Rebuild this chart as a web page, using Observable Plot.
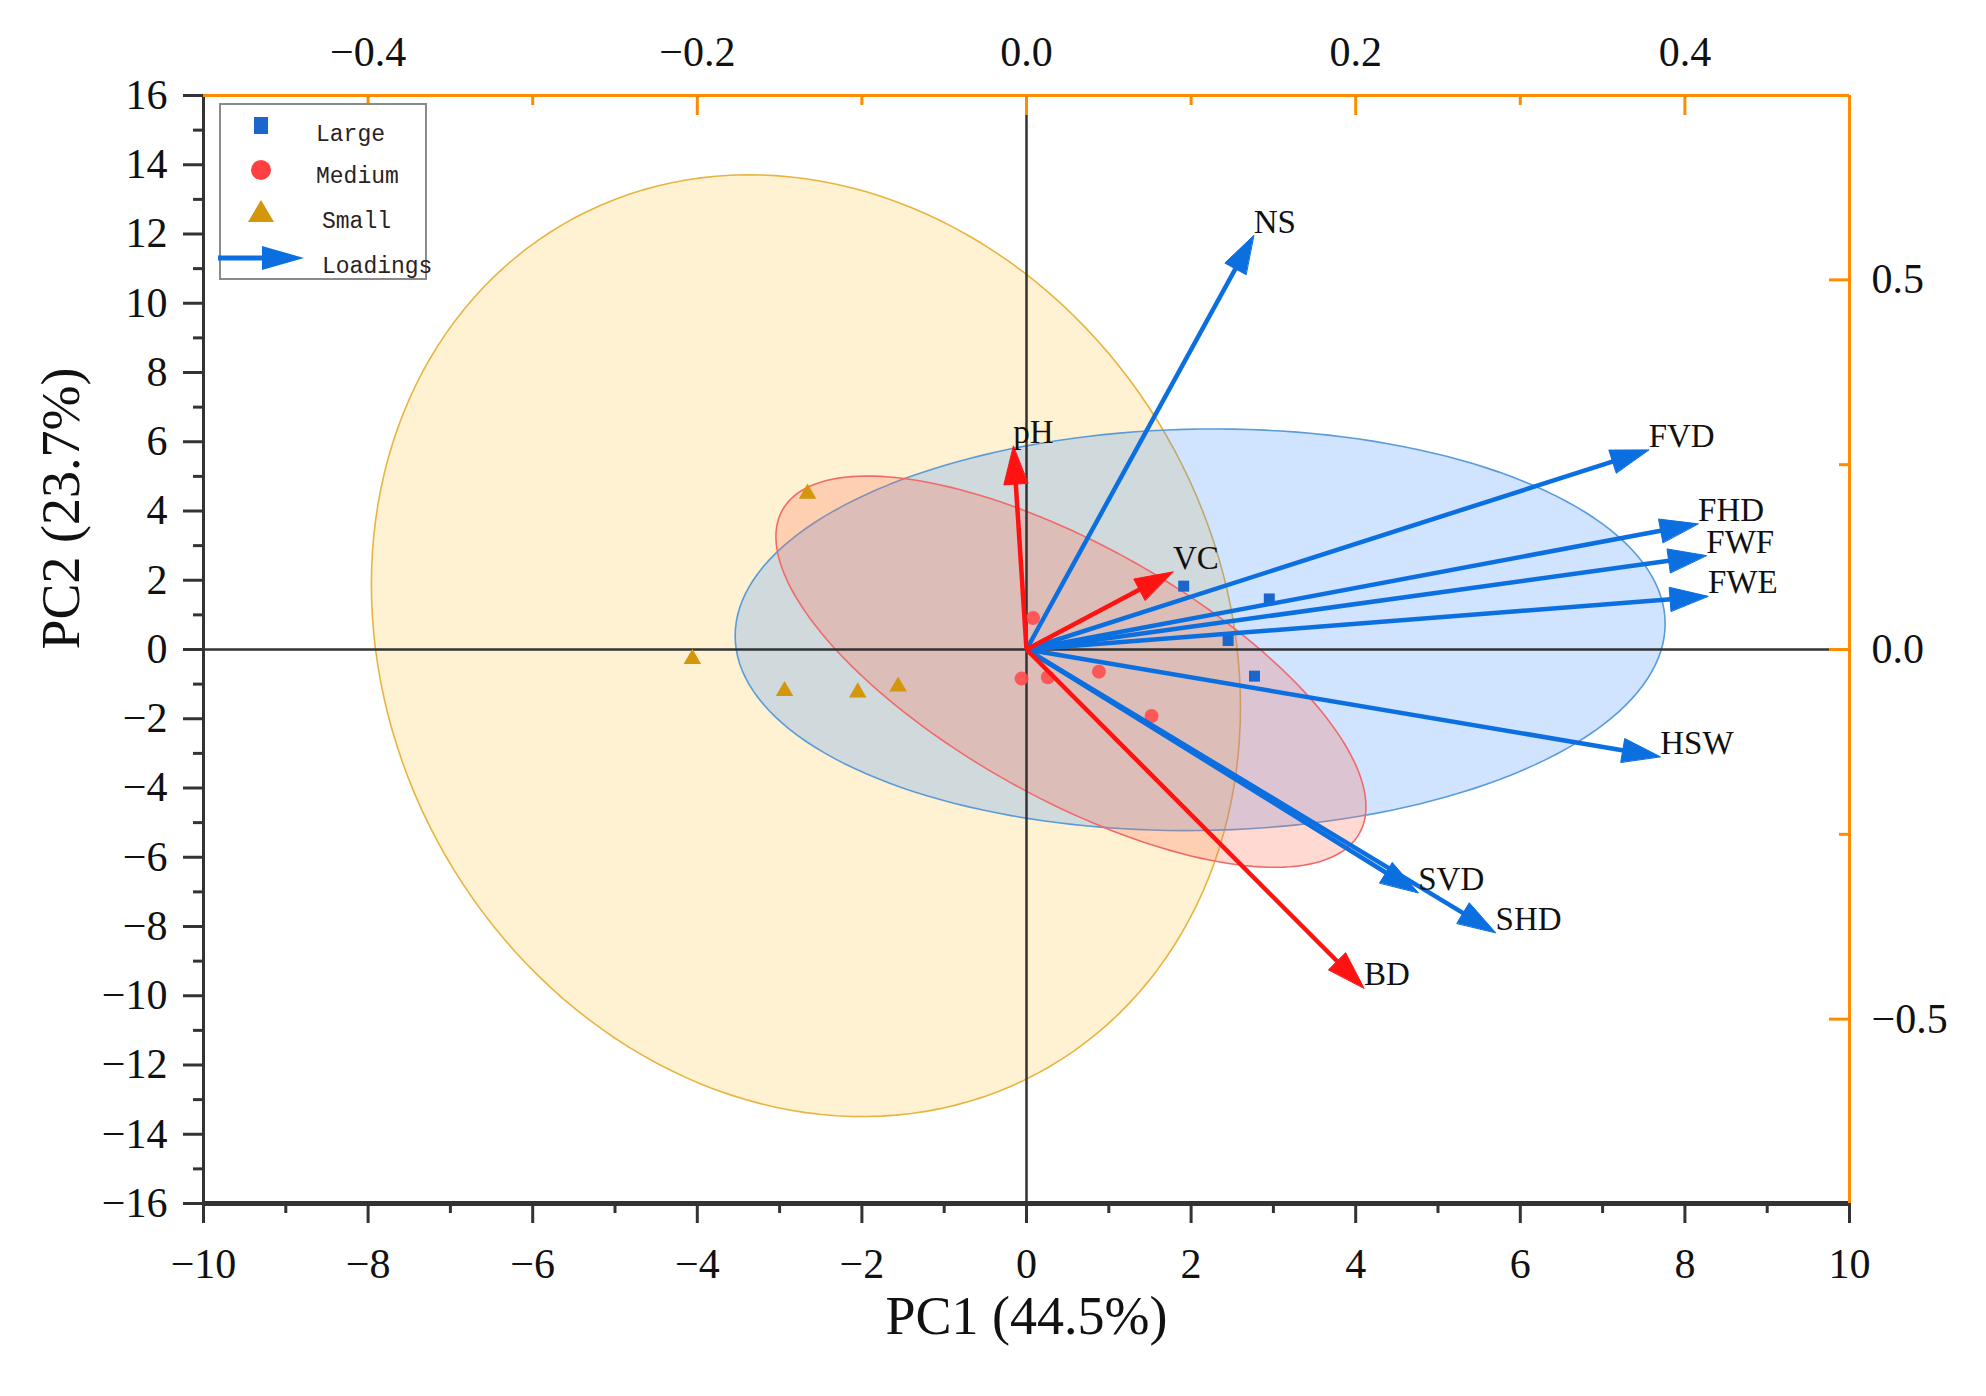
<!DOCTYPE html>
<html>
<head>
<meta charset="utf-8">
<script src="https://cdn.jsdelivr.net/npm/d3@7"></script>
<script src="https://cdn.jsdelivr.net/npm/@observablehq/plot@0.6"></script>
<style>
  body { margin: 0; background: #fff; }
  #wrap { position: relative; width: 1986px; height: 1396px; }
  #legend { position: absolute; left: 0; top: 0; }
</style>
</head>
<body>
<div id="wrap">
  <div id="chart_pca"></div>
  <svg id="legend" width="1986" height="1396"></svg>
</div>
<script>
// scores (PC1, PC2) por grupo
let groups = ["Large", "Medium", "Small"];
let largeX = [1.91, 2.95, 2.45, 2.77];
let largeY = [1.83, 1.46, 0.26, -0.77];
let mediumX = [0.08, -0.06, 0.26, 0.88, 1.52];
let mediumY = [0.91, -0.84, -0.80, -0.64, -1.92];
let smallX = [-2.66, -4.06, -2.94, -2.05, -1.56];
let smallY = [4.50, -0.27, -1.20, -1.24, -1.07];

// loadings (eje superior / derecho)
let variables = ["NS", "pH", "VC", "FVD", "FHD", "FWF", "FWE", "HSW", "SVD", "SHD", "BD"];
let loadPC1 = [0.138, -0.008, 0.089, 0.378, 0.408, 0.413, 0.414, 0.385, 0.238, 0.285, 0.205];
let loadPC2 = [0.560, 0.275, 0.105, 0.270, 0.170, 0.127, 0.072, -0.145, -0.329, -0.383, -0.458];
let soilVars = ["pH", "VC", "BD"];

// elipses de confianza: centro, semiancho PC1, semialto PC2, cos del desfase
let ellGroup = ["Small", "Large", "Medium"];
let ellCX = [-2.68, 2.11, 0.54];
let ellCY = [0.11, 0.57, -0.64];
let ellRX = [5.28, 5.65, 3.585];
let ellRY = [13.6, 5.80, 5.65];
let ellCos = [-0.13, 0.03, -0.69];

let ticksPC1 = d3.range(-10, 11, 2);
let ticksPC2 = d3.range(-16, 17, 2);
let ticksLoad1 = [-0.4, -0.2, 0, 0.2, 0.4];
let minorLoad1 = [-0.3, -0.1, 0.1, 0.3];
let ticksLoad2 = [-0.5, 0, 0.5];
let minorLoad2 = [-0.25, 0.25];

let kx = 20, ky = 21.35;
let W = 1986, H = 1396, mL = 203, mR = 137, mT = 95, mB = 193;
let fw = W - mL - mR, fh = H - mT - mB;
let pxX = fw / 20, pxY = fh / 32;
let dark = "#333", orange = "#ff8c00";
let blue = "#0b6fe0", red = "#ff1212";
let headLen = 38, headHalf = 12;

let scores = [
  ...largeX.map((x, i) => ({group: "Large", x, y: largeY[i]})),
  ...mediumX.map((x, i) => ({group: "Medium", x, y: mediumY[i]})),
  ...smallX.map((x, i) => ({group: "Small", x, y: smallY[i]}))
];

let loadings = variables.map((v, i) => {
  let d = {name: v, x: loadPC1[i] * kx, y: loadPC2[i] * ky, soil: soilVars.includes(v)};
  let ux = d.x * pxX, uy = d.y * pxY, n = Math.hypot(ux, uy);
  ux /= n; uy /= n;
  let bx = d.x - headLen * ux / pxX, by = d.y - headLen * uy / pxY;
  d.sx = bx + 4 * ux / pxX; d.sy = by + 4 * uy / pxY;
  d.head = [
    {name: v, x: d.x, y: d.y},
    {name: v, x: bx - headHalf * uy / pxX, y: by + headHalf * ux / pxY},
    {name: v, x: bx + headHalf * uy / pxX, y: by - headHalf * ux / pxY}
  ];
  return d;
});
let blueArr = loadings.filter(d => !d.soil);
let redArr = loadings.filter(d => d.soil);

let ellipses = ellGroup.flatMap((g, i) => {
  let phi = Math.acos(ellCos[i]);
  return d3.range(0, 360, 2).map(a => {
    let t = a * Math.PI / 180;
    return {group: g, x: ellCX[i] + ellRX[i] * Math.cos(t), y: ellCY[i] + ellRY[i] * Math.cos(t - phi)};
  });
});
let ellStyle = {
  Small: {fill: "#ffd56b", op: 0.3, stroke: "#e8b440"},
  Large: {fill: "#3c8cff", op: 0.24, stroke: "#5a9bd8"},
  Medium: {fill: "#ff7458", op: 0.27, stroke: "#f06a6a"}
};
let fmt = d3.format(".1f");

let chart = Plot.plot({
  width: W,
  height: H,
  marginLeft: mL,
  marginRight: mR,
  marginTop: mT,
  marginBottom: mB,
  x: {domain: [-10, 10]},
  y: {domain: [-16, 16]},
  style: {fontFamily: '"Liberation Serif", "DejaVu Serif", serif', color: "#111", background: "#fff"},
  marks: [
    ...ellGroup.map(g => Plot.line(ellipses.filter(d => d.group == g), {
      x: "x", y: "y", curve: "linear-closed",
      fill: ellStyle[g].fill, fillOpacity: ellStyle[g].op,
      stroke: ellStyle[g].stroke, strokeWidth: 1.6
    })),

    Plot.ruleX([0], {stroke: dark, strokeWidth: 2.5}),
    Plot.ruleY([0], {stroke: dark, strokeWidth: 2.5}),

    Plot.dot(scores.filter(d => d.group == "Large"), {x: "x", y: "y", symbol: "square", r: 6.2, fill: "#1a66cc"}),
    Plot.dot(scores.filter(d => d.group == "Medium"), {x: "x", y: "y", symbol: "circle", r: 7, fill: "#ff4d4d", fillOpacity: 0.9}),
    Plot.dot(scores.filter(d => d.group == "Small"), {x: "x", y: "y", symbol: "triangle", r: 6.5, fill: "#d4960a"}),

    // flechas
    Plot.link(blueArr, {x1: 0, y1: 0, x2: "sx", y2: "sy", stroke: blue, strokeWidth: 4.5}),
    Plot.link(redArr, {x1: 0, y1: 0, x2: "sx", y2: "sy", stroke: red, strokeWidth: 4.5}),
    Plot.line(blueArr.flatMap(d => d.head), {x: "x", y: "y", z: "name", curve: "linear-closed", fill: blue, stroke: blue, strokeWidth: 1}),
    Plot.line(redArr.flatMap(d => d.head), {x: "x", y: "y", z: "name", curve: "linear-closed", fill: red, stroke: red, strokeWidth: 1}),
    Plot.text(loadings, {x: "x", y: "y", text: "name", textAnchor: "start", lineAnchor: "bottom", dy: -3, fontSize: 33, fill: "#111"}),

    // marco
    Plot.ruleX([-10], {stroke: dark, strokeWidth: 3}),
    Plot.ruleY([-16], {stroke: dark, strokeWidth: 5}),
    Plot.ruleY([16], {stroke: orange, strokeWidth: 3}),
    Plot.ruleX([10], {stroke: orange, strokeWidth: 3}),

    // ejes PC1 / PC2
    Plot.axisX({anchor: "bottom", ticks: ticksPC1, tickSize: 20, tickPadding: 25, fontSize: 42, stroke: dark, strokeWidth: 3, label: null}),
    Plot.axisX({anchor: "bottom", ticks: d3.range(-9, 10, 2), tickSize: 10, tickFormat: () => "", stroke: dark, strokeWidth: 3, label: null}),
    Plot.axisY({anchor: "left", ticks: ticksPC2, tickSize: 20, tickPadding: 16, fontSize: 42, stroke: dark, strokeWidth: 3, label: null}),
    Plot.axisY({anchor: "left", ticks: d3.range(-15, 16, 2), tickSize: 10, tickFormat: () => "", stroke: dark, strokeWidth: 3, label: null}),

    // ejes de loadings (ticks hacia dentro)
    Plot.axisX({anchor: "top", ticks: ticksLoad1.map(v => v * kx), tickSize: 0, tickPadding: 30, tickFormat: d => fmt(d / kx), fontSize: 42, label: null}),
    Plot.axisX({anchor: "bottom", dy: -fh, ticks: ticksLoad1.map(v => v * kx), tickSize: 20, tickFormat: () => "", stroke: orange, strokeWidth: 3, label: null}),
    Plot.axisX({anchor: "bottom", dy: -fh, ticks: minorLoad1.map(v => v * kx), tickSize: 10, tickFormat: () => "", stroke: orange, strokeWidth: 3, label: null}),
    Plot.axisY({anchor: "right", ticks: ticksLoad2.map(v => v * ky), tickSize: 0, tickPadding: 22, tickFormat: d => fmt(d / ky), fontSize: 42, label: null}),
    Plot.axisY({anchor: "left", dx: fw, ticks: ticksLoad2.map(v => v * ky), tickSize: 20, tickFormat: () => "", stroke: orange, strokeWidth: 3, label: null}),
    Plot.axisY({anchor: "left", dx: fw, ticks: minorLoad2.map(v => v * ky), tickSize: 10, tickFormat: () => "", stroke: orange, strokeWidth: 3, label: null}),

    Plot.text(["PC1 (44.5%)"], {frameAnchor: "bottom", dy: 130, text: d => d, fontSize: 54, fill: "#111"}),
    Plot.text(["PC2 (23.7%)"], {frameAnchor: "left", dx: -142, rotate: -90, text: d => d, fontSize: 54, fill: "#111"})
  ]
});

d3.select('#chart_pca').append(() => chart);

// leyenda
let lg = d3.select('#legend');
lg.append('rect').attr('x', 220).attr('y', 104).attr('width', 206).attr('height', 175)
  .attr('fill', '#fff').attr('stroke', '#8a8a8a').attr('stroke-width', 2);
lg.append('rect').attr('x', 254).attr('y', 117).attr('width', 14).attr('height', 17).attr('fill', '#1a66cc');
lg.append('circle').attr('cx', 261).attr('cy', 170).attr('r', 10).attr('fill', '#ff4040');
lg.append('path').attr('d', 'M261,200 L274,222 L248,222 Z').attr('fill', '#d4960a');
lg.append('line').attr('x1', 218).attr('y1', 258).attr('x2', 264).attr('y2', 258).attr('stroke', blue).attr('stroke-width', 5);
lg.append('path').attr('d', 'M262,246 L304,258 L262,270 Z').attr('fill', blue);
let legText = [["Large", 316, 141], ["Medium", 316, 183], ["Small", 322, 228], ["Loadings", 322, 273]];
legText.forEach(([t, x, y]) => {
  lg.append('text').attr('x', x).attr('y', y).text(t)
    .attr('font-family', '"Liberation Mono", "DejaVu Sans Mono", monospace')
    .attr('font-size', 23).attr('fill', '#2a2222');
});
</script>
</body>
</html>
